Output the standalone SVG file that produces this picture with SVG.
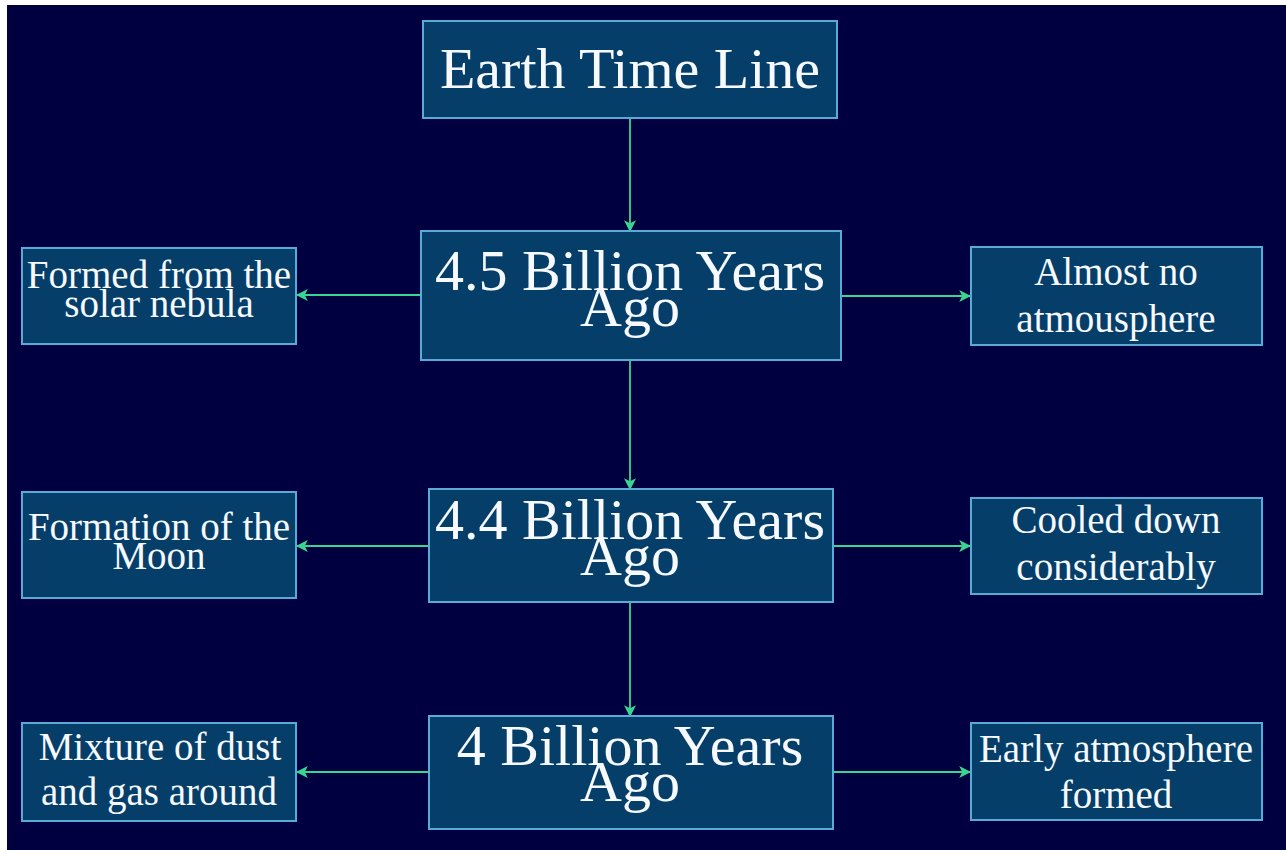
<svg xmlns="http://www.w3.org/2000/svg" width="1286" height="850" viewBox="0 0 1286 850">
<defs>
<style>
.box{fill:#053e68;stroke:#5aaad8;stroke-width:2}
.t{font-family:"Liberation Serif","Times New Roman",serif;fill:#f6f9ff;text-anchor:middle}
.big{font-size:58px}
.sm{font-size:39px}
.c{stroke:#38d690;stroke-width:1.8;fill:none;marker-end:url(#ah)}
</style>
<marker id="ah" viewBox="0 0 10 10" refX="9" refY="5" markerWidth="12" markerHeight="12" markerUnits="userSpaceOnUse" orient="auto">
<path d="M0,0 L10,5 L0,10 L2.5,5 Z" fill="#38d690"/>
</marker>
</defs>
<rect x="0" y="0" width="1286" height="850" fill="#ffffff"/>
<rect x="7" y="5" width="1279" height="845" fill="#000040"/>
<g id="connectors">
<line class="c" x1="630" y1="118" x2="630" y2="231"/>
<line class="c" x1="630" y1="360" x2="630" y2="489"/>
<line class="c" x1="630" y1="602" x2="630" y2="716"/>
<line class="c" x1="421" y1="295" x2="297" y2="295"/>
<line class="c" x1="841" y1="296" x2="970" y2="296"/>
<line class="c" x1="429" y1="546" x2="297" y2="546"/>
<line class="c" x1="833" y1="546" x2="970" y2="546"/>
<line class="c" x1="429" y1="772" x2="297" y2="772"/>
<line class="c" x1="833" y1="772" x2="970" y2="772"/>
</g>
<g id="title">
<rect class="box" x="423" y="21" width="414" height="97"/>
<text class="t big" x="630" y="88">Earth Time Line</text>
</g>
<g id="n45">
<rect class="box" x="421" y="231" width="420" height="129"/>
<text class="t big" x="630" y="290">4.5 Billion Years</text>
<text class="t big" x="630" y="326">Ago</text>
</g>
<g id="n44">
<rect class="box" x="429" y="489" width="404" height="113"/>
<text class="t big" x="630" y="539">4.4 Billion Years</text>
<text class="t big" x="630" y="575">Ago</text>
</g>
<g id="n40">
<rect class="box" x="429" y="716" width="404" height="113"/>
<text class="t big" x="630" y="765">4 Billion Years</text>
<text class="t big" x="630" y="801">Ago</text>
</g>
<g id="formed">
<rect class="box" x="22" y="248" width="274" height="96"/>
<text class="t sm" x="159" y="288">Formed from the</text>
<text class="t sm" x="159" y="317">solar nebula</text>
</g>
<g id="moon">
<rect class="box" x="22" y="492" width="274" height="106"/>
<text class="t sm" x="159" y="540">Formation of the</text>
<text class="t sm" x="159" y="569">Moon</text>
</g>
<g id="mixture">
<rect class="box" x="22" y="723" width="274" height="98"/>
<text class="t sm" x="160" y="760">Mixture of dust</text>
<text class="t sm" x="159" y="805">and gas around</text>
</g>
<g id="almost">
<rect class="box" x="971" y="247" width="291" height="98"/>
<text class="t sm" x="1116" y="285">Almost no</text>
<text class="t sm" x="1116" y="332">atmousphere</text>
</g>
<g id="cooled">
<rect class="box" x="971" y="498" width="291" height="96"/>
<text class="t sm" x="1116" y="533">Cooled down</text>
<text class="t sm" x="1116" y="580">considerably</text>
</g>
<g id="early">
<rect class="box" x="971" y="723" width="291" height="97"/>
<text class="t sm" x="1116" y="762">Early atmosphere</text>
<text class="t sm" x="1116" y="808">formed</text>
</g>
</svg>
